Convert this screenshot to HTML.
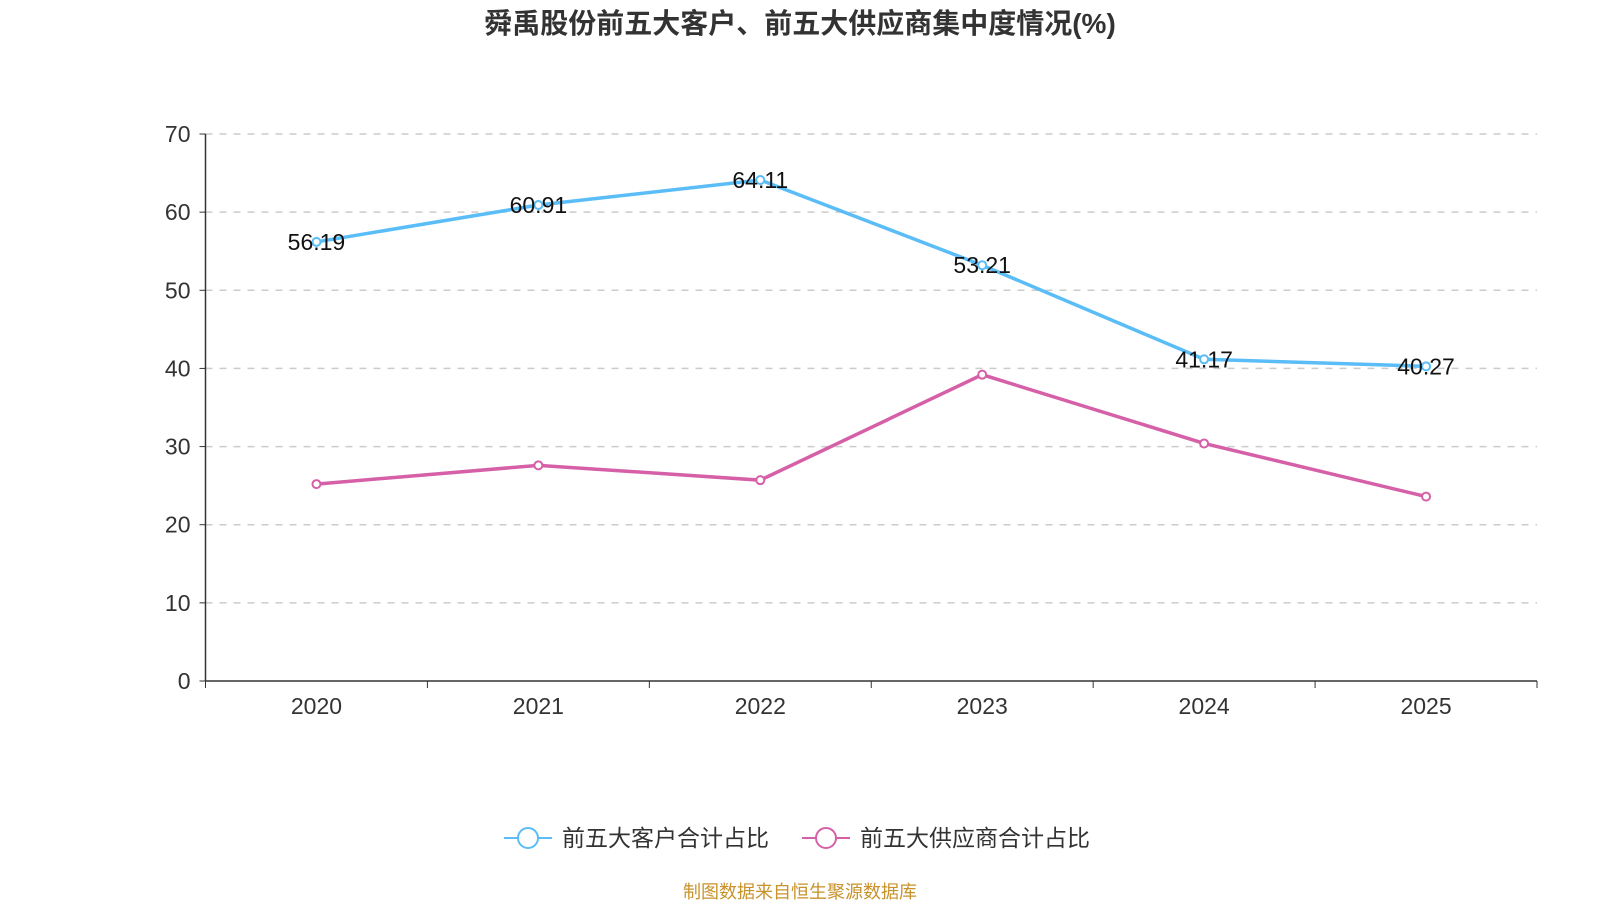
<!DOCTYPE html>
<html><head><meta charset="utf-8"><style>
body{margin:0;background:#fff;font-family:"Liberation Sans","Noto Sans CJK SC",sans-serif}
</style></head><body>
<svg id="c" width="1600" height="900" xmlns="http://www.w3.org/2000/svg">
<text x="800" y="33" text-anchor="middle" font-size="28" font-weight="bold" fill="#333" font-family="Liberation Sans,Noto Sans CJK SC,sans-serif">舜禹股份前五大客户、前五大供应商集中度情况(%)</text>
<g id="grid"></g><g id="axes"></g><g id="series"></g>
<g font-family="Liberation Sans,Noto Sans CJK SC,sans-serif" font-size="23" fill="#333">
<g><line x1="504" y1="838" x2="552" y2="838" stroke="#5bbdf7" stroke-width="2"/><circle cx="528" cy="838" r="10" fill="#fff" stroke="#5bbdf7" stroke-width="2"/><text x="562" y="846">前五大客户合计占比</text></g>
<g><line x1="802" y1="838" x2="850" y2="838" stroke="#d660a8" stroke-width="2"/><circle cx="826" cy="838" r="10" fill="#fff" stroke="#d660a8" stroke-width="2"/><text x="860" y="846">前五大供应商合计占比</text></g>
</g>
<text x="800" y="898" text-anchor="middle" font-size="18" fill="#c8922a">制图数据来自恒生聚源数据库</text>
</svg>
<script>
const categories=["2020","2021","2022","2023","2024","2025"];
const customers=[56.19,60.91,64.11,53.21,41.17,40.27];
const suppliers=[25.2,27.6,25.7,39.2,30.4,23.6];
const yTicks=[0,10,20,30,40,50,60,70];
const NS="http://www.w3.org/2000/svg";
const L=205.5,R=1537,T=134,B=681,yMax=70;
const bw=(R-L)/categories.length;
const x=i=>L+bw*(i+0.5);
const y=v=>B-(v/yMax)*(B-T);
function mk(p,tag,a){const e=document.createElementNS(NS,tag);for(const k in a)e.setAttribute(k,a[k]);p.appendChild(e);return e;}
const grid=document.getElementById('grid'),axes=document.getElementById('axes'),ser=document.getElementById('series');
yTicks.forEach(t=>{
 if(t>0){const g=mk(grid,'line',{x1:L,x2:R,y1:y(t),y2:y(t),stroke:'#ccc','stroke-width':1.5,'stroke-dasharray':'7,7'});
 
 }
 mk(axes,'line',{x1:L-6,x2:L,y1:y(t),y2:y(t),stroke:'#333'});
 const tx=mk(axes,'text',{x:L-15,y:y(t)+8,'text-anchor':'end','font-size':23,fill:'#333'});
 tx.textContent=t;
 
 
});
mk(axes,'line',{x1:L,x2:L,y1:T,y2:B,stroke:'#333','stroke-width':1.5});
mk(axes,'line',{x1:L,x2:R,y1:B,y2:B,stroke:'#333','stroke-width':1.5});
for(let i=0;i<=categories.length;i++)mk(axes,'line',{x1:L+bw*i,x2:L+bw*i,y1:B,y2:B+7,stroke:'#333'});
categories.forEach((c,i)=>{
 const tx=mk(axes,'text',{x:x(i),y:B+33,'text-anchor':'middle','font-size':23,fill:'#333'});
 tx.textContent=c;
 
 
});
function draw(vals,color,name,labels){
 const pl=mk(ser,'polyline',{points:vals.map((v,i)=>x(i)+','+y(v)).join(' '),fill:'none',stroke:color,'stroke-width':3.5});
 
 
 vals.forEach((v,i)=>{
  const c=mk(ser,'circle',{cx:x(i),cy:y(v),r:4,fill:'#fff',stroke:color,'stroke-width':2});
  
  
  if(labels){const t=mk(ser,'text',{x:x(i),y:y(v)+8,'text-anchor':'middle','font-size':23,fill:'#111'});
   t.textContent=v.toFixed(2);
   
   }
 });
}
draw(suppliers,'#d660a8','suppliers',false);
draw(customers,'#5bbdf7','customers',true);
</script>
</body></html>
